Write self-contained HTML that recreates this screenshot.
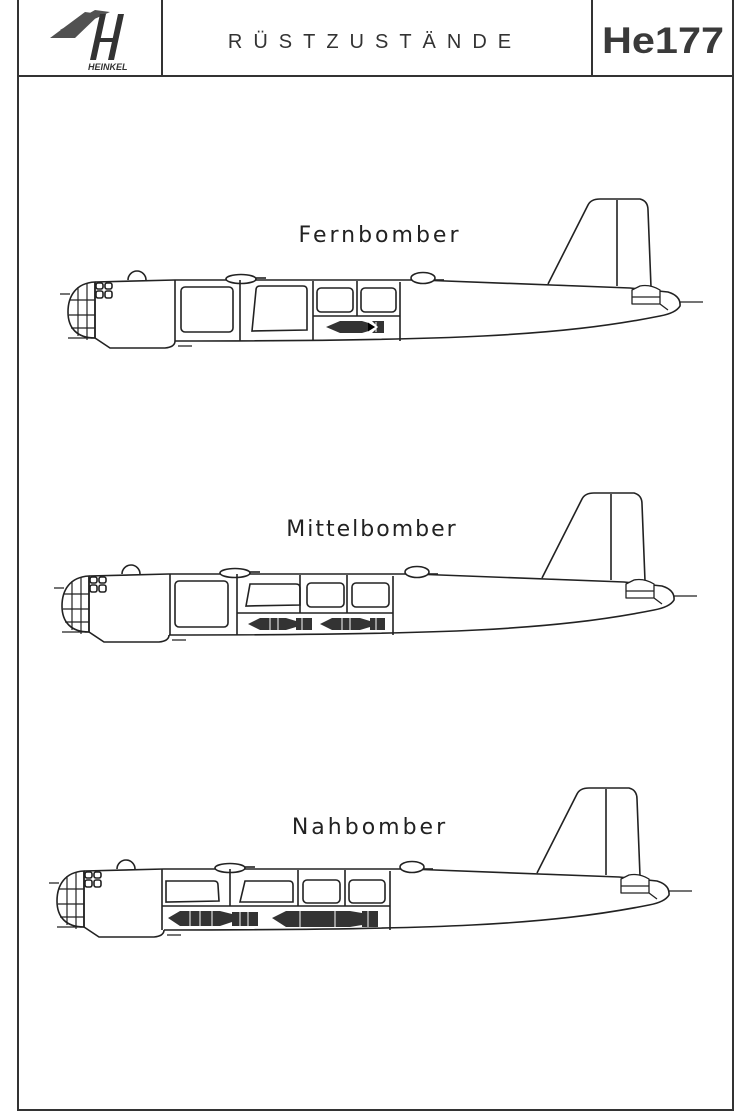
<!DOCTYPE html>
<html><head><meta charset="utf-8"><style>
body{margin:0;background:#fff;}
svg{display:block;}
</style></head><body>
<svg width="741" height="1115" viewBox="0 0 741 1115" xmlns="http://www.w3.org/2000/svg">
<defs>
<g id="ac" fill="none" stroke="#222" stroke-width="1.6" stroke-linejoin="round">
  <path d="M95,282 L175,280 L420,280 L630,288 L668,292 Q681,296 680,306 Q676,313 660,316 C560,336 450,341 175,341" fill="#fff"/>
  <path d="M95,282 C76,283 68,296 68,312 C68,328 77,338 95,338 Z" fill="#fff"/>
  <path d="M78,287 L78,336 M87,283 L87,340 M70,300 L95,300 M69,315 L95,315 M71,328 L95,328" stroke-width="1.2"/>
  <path d="M95,282 L95,338 L110,348 L165,348 Q175,347 175,341"/>
  <rect x="96" y="283" width="7" height="6" rx="2"/><rect x="105" y="283" width="7" height="6" rx="2"/>
  <rect x="96" y="291" width="7" height="7" rx="2"/><rect x="105" y="291" width="7" height="7" rx="2"/>
  <path d="M128,280 A9,9 0 0 1 146,280" fill="#fff"/>
  <ellipse cx="241" cy="279" rx="15" ry="4.5" fill="#fff"/>
  <path d="M256,278 L266,278"/>
  <ellipse cx="423" cy="278" rx="12" ry="5.5" fill="#fff"/>
  <path d="M435,280 L444,280"/>
  <path d="M548,284 L588,205 Q591,199 600,199 L640,199 Q648,201 648,210 L651,287" fill="#fff"/>
  <path d="M617,200 L617,286"/>
  <path d="M632,290 L632,304 L660,304 L660,290 Q650,284 640,286 Z M632,297 L660,297 M660,304 L668,310" fill="#fff" stroke-width="1.3"/>
  <path d="M680,302 L703,302 M60,294 L70,294 M68,338 L95,338 M178,346 L192,346" stroke-width="1.3"/>
</g>
</defs>
<rect width="741" height="1115" fill="#fff"/>
<g fill="none" stroke="#333" stroke-width="2">
  <path d="M18,0 L18,1110 L733,1110 L733,0"/>
  <path d="M18,76 L733,76"/>
  <path d="M162,0 L162,76 M592,0 L592,76"/>
</g>
<g fill="#333">
  <path d="M50,38 L85,12 L100,14 L75,38 Z M60,30 L95,10 L110,12 L70,30 Z" opacity="0.85"/>
  <path d="M100,14 L106,14 L96,60 L90,60 Z M118,14 L124,14 L114,60 L108,60 Z M98,38 L118,38 L117,42 L97,42 Z"/>
  <text x="88" y="70" font-family="Liberation Sans, sans-serif" font-size="9" font-style="italic" font-weight="bold">HEINKEL</text>
</g>
<text x="375" y="48" text-anchor="middle" font-family="Liberation Sans, sans-serif" font-size="20" letter-spacing="11" fill="#333">RÜSTZUSTÄNDE</text>
<text x="663" y="53" text-anchor="middle" font-family="Liberation Sans, sans-serif" font-size="37" font-weight="bold" fill="#3a3a3a" textLength="122" lengthAdjust="spacingAndGlyphs">He177</text>

<text x="380" y="242" text-anchor="middle" font-family="DejaVu Sans, sans-serif" font-size="22" letter-spacing="3" fill="#222">Fernbomber</text>
<text x="372" y="536" text-anchor="middle" font-family="DejaVu Sans, sans-serif" font-size="22" letter-spacing="2" fill="#222">Mittelbomber</text>
<text x="370" y="834" text-anchor="middle" font-family="DejaVu Sans, sans-serif" font-size="22" letter-spacing="3" fill="#222">Nahbomber</text>

<use href="#ac"/>
<use href="#ac" transform="translate(-6,294)"/>
<use href="#ac" transform="translate(-11,589)"/>

<g fill="none" stroke="#222" stroke-width="1.6">
  <path d="M175,280 L175,341 M240,280 L240,341 M313,281 L313,341 M357,281 L357,316 M400,282 L400,341 M313,316 L400,316"/>
  <rect x="181" y="287" width="52" height="45" rx="4"/>
  <path d="M256,290 Q256,286 260,286 L303,286 Q307,286 307,290 L307,330 L252,331 Z"/>
  <rect x="317" y="288" width="36" height="24" rx="4"/><rect x="361" y="288" width="35" height="24" rx="4"/>
  <path d="M170,574 L170,635 M237,574 L237,635 M300,575 L300,613 M347,575 L347,613 M393,576 L393,635 M237,613 L393,613"/>
  <rect x="175" y="581" width="53" height="46" rx="4"/>
  <path d="M250,584 L296,584 Q300,584 300,588 L300,605 L246,606 Z"/>
  <rect x="307" y="583" width="37" height="24" rx="4"/><rect x="352" y="583" width="37" height="24" rx="4"/>
  <path d="M162,869 L162,930 M230,869 L230,906 M298,870 L298,906 M345,870 L345,906 M390,871 L390,930 M162,906 L390,906"/>
  <path d="M166,881 L214,881 Q218,881 218,885 L219,901 L166,902 Z"/>
  <path d="M245,881 L289,881 Q293,881 293,885 L293,902 L240,902 Z"/>
  <rect x="303" y="880" width="37" height="23" rx="4"/><rect x="349" y="880" width="36" height="23" rx="4"/>
</g>
<g fill="#333">
  <path d="M326,327 L340,321 L362,321 L372,324 L372,330 L362,333 L340,333 Z"/>
  <path d="M372,321 L384,321 L384,333 L372,333 L378,327 Z"/>
  <path d="M248,624 L260,618 L286,618 L296,621 L296,627 L286,630 L260,630 Z M296,618 L312,618 L312,630 L296,630 Z"/>
  <path d="M320,624 L332,618 L360,618 L370,621 L370,627 L360,630 L332,630 Z M370,618 L385,618 L385,630 L370,630 Z"/>
  <path d="M168,918 L180,911 L220,911 L232,914 L232,922 L220,926 L180,926 Z M232,912 L258,912 L258,926 L232,926 Z"/>
  <path d="M272,918 L286,911 L350,911 L362,913 L362,925 L350,927 L286,927 Z M362,911 L378,911 L378,927 L362,927 Z"/>
</g>
<g stroke="#fff" stroke-width="1">
  <path d="M368,322 L376,327 L368,332 M376,322 L376,332"/>
  <path d="M270,618 L270,630 M278,618 L278,630 M302,618 L302,630 M342,618 L342,630 M350,618 L350,630 M376,618 L376,630"/>
  <path d="M190,911 L190,926 M200,911 L200,926 M212,911 L212,926 M240,912 L240,926 M248,912 L248,926 M300,911 L300,927 M335,911 L335,927 M368,911 L368,927"/>
</g>
</svg>
</body></html>
